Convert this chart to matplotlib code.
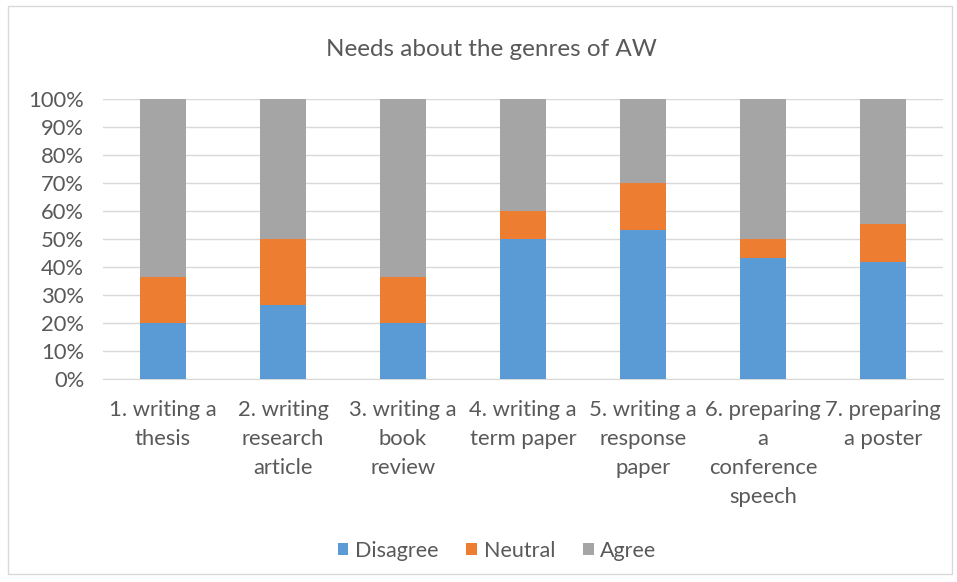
import matplotlib
matplotlib.use("Agg")
import matplotlib.pyplot as plt
from matplotlib.patches import Rectangle
from matplotlib.ticker import PercentFormatter
import numpy as np

categories = ["1. writing a\nthesis", "2. writing\nresearch\narticle", "3. writing a\nbook\nreview",
              "4. writing a\nterm paper", "5. writing a\nresponse\npaper",
              "6. preparing\na\nconference\nspeech", "7. preparing\na poster"]
disagree = [20.0, 26.7, 20.0, 50.0, 53.3, 43.3, 41.9]
neutral = [16.7, 23.3, 16.7, 10.0, 16.7, 6.7, 13.7]
agree = [100 - d - n for d, n in zip(disagree, neutral)]
series_names = ["Disagree", "Neutral", "Agree"]
colors = ["#5B9BD5", "#ED7D31", "#A5A5A5"]

plt.rcParams['font.family'] = ['Lato', 'DejaVu Sans']
txt = "#595959"

W, H = 957, 582
fig = plt.figure(figsize=(W / 100, H / 100), dpi=100)
ax = fig.add_axes([103 / W, 1 - 379.3 / H, 840 / W, 280 / H])

x = np.arange(len(categories))
bw = 0.39
bottom = np.zeros(len(categories))
for vals, name, c in zip([disagree, neutral, agree], series_names, colors):
    ax.bar(x, vals, bw, bottom=bottom, color=c, label=name, zorder=3)
    bottom += np.array(vals)

ax.set_xlim(-0.5, len(categories) - 0.5)
ax.set_ylim(0, 100)
ax.set_yticks(np.arange(0, 101, 10))
ax.yaxis.set_major_formatter(PercentFormatter(decimals=0))
ax.grid(axis='y', color="#D9D9D9", linewidth=1, zorder=0)
for s in ["top", "right", "left"]:
    ax.spines[s].set_visible(False)
ax.spines["bottom"].set_color("#D9D9D9")
ax.tick_params(axis='both', length=0, colors=txt, labelsize=15.8)
ax.tick_params(axis='y', pad=13.5)
ax.tick_params(axis='x', pad=15)
ax.set_xticks(x)
ax.set_xticklabels(categories, linespacing=1.57)

fig.text(491 / W, 1 - 50 / H, "Needs about the genres of AW", ha='center', va='center',
         fontsize=17.5, color=txt)

leg = fig.legend(loc='center', bbox_to_anchor=(497 / W, 1 - 551 / H), ncol=3, frameon=False,
                 fontsize=15.5, handlelength=0.5, handleheight=0.5, handletextpad=0.3,
                 columnspacing=1.3)
for t in leg.get_texts():
    t.set_color(txt)

fig.patches.append(Rectangle((8 / W, 8 / H), 944 / W, 568 / H, transform=fig.transFigure,
                             fill=False, edgecolor="#D9D9D9", linewidth=1))

fig.savefig("out.png", dpi=100, facecolor="white")
